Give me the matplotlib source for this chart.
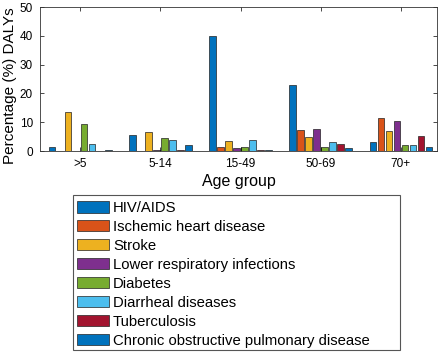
import numpy as np
import matplotlib as mpl
import matplotlib.pyplot as plt
from matplotlib.patches import Rectangle

mpl.rcParams['font.family'] = 'Liberation Sans'

age_groups = ['>5', '5-14', '15-49', '50-69', '70+']
causes = ['HIV/AIDS', 'Ischemic heart disease', 'Stroke',
          'Lower respiratory infections', 'Diabetes', 'Diarrheal diseases',
          'Tuberculosis', 'Chronic obstructive pulmonary disease']

# percentage DALYs per cause, one value per age group
hiv      = [1.5, 5.5, 40.0, 23.0, 3.0]
ihd      = [0.0, 0.0, 1.3, 7.2, 11.3]
stroke   = [13.5, 6.5, 3.3, 5.0, 6.8]
lri      = [0.1, 0.3, 1.0, 7.7, 10.5]
diabetes = [9.3, 4.5, 1.5, 1.4, 2.0]
diarrhea = [2.5, 3.8, 3.8, 3.2, 2.0]
tb       = [0.0, 0.3, 0.4, 2.4, 5.2]
copd     = [0.3, 2.0, 0.5, 1.0, 1.3]

colors = ['#0072BD', '#D95319', '#EDB120', '#7E2F8E',
          '#77AC30', '#4DBEEE', '#A2142F', '#0072BD']

series = [hiv, ihd, stroke, lri, diabetes, diarrhea, tb, copd]

W, H = 447, 354
fig = plt.figure(figsize=(W/100, H/100), dpi=100)
ax = fig.add_axes([40/W, 1 - 151/H, 397/W, 144/H])

x = np.arange(1, len(age_groups) + 1)
n = len(series)
slot = 0.1
width = 0.083
handles = []
for i, (vals, c) in enumerate(zip(series, colors)):
    off = (i - (n - 1)/2) * slot
    b = ax.bar(x + off, vals, width, color=c, edgecolor='#222222', linewidth=0.5)
    handles.append(b)

ax.set_xlim(0.5, 5.45)
ax.set_ylim(0, 50)
ax.set_yticks(range(0, 51, 10))
ax.set_xticks(x)
ax.set_xticklabels(age_groups)
ax.tick_params(direction='in', labelsize=8.5, length=3, width=0.5,
               top=True, right=True, pad=5)
for s in ax.spines.values():
    s.set_linewidth(0.6)
    s.set_color('#333333')
ax.set_xlabel('Age group', fontsize=11.5, labelpad=3)
ax.set_ylabel('Percentage (%) DALYs', fontsize=11)
ax.yaxis.set_label_coords(-0.058, 0.455)

leg = fig.legend(handles, causes, loc='upper left',
                 bbox_to_anchor=(77/W, 1 - 201/H), borderaxespad=0,
                 fontsize=10.7, handlelength=2.15, handleheight=0.8,
                 handletextpad=0.27, labelspacing=0.335, borderpad=0,
                 frameon=False)

# legend box is wider than its entries
fig.patches.append(Rectangle((73/W, 1 - 350/H), 327/W, 155/H,
                             transform=fig.transFigure, fill=False,
                             edgecolor='#555555', linewidth=0.8))

fig.savefig('out.png', dpi=100)
